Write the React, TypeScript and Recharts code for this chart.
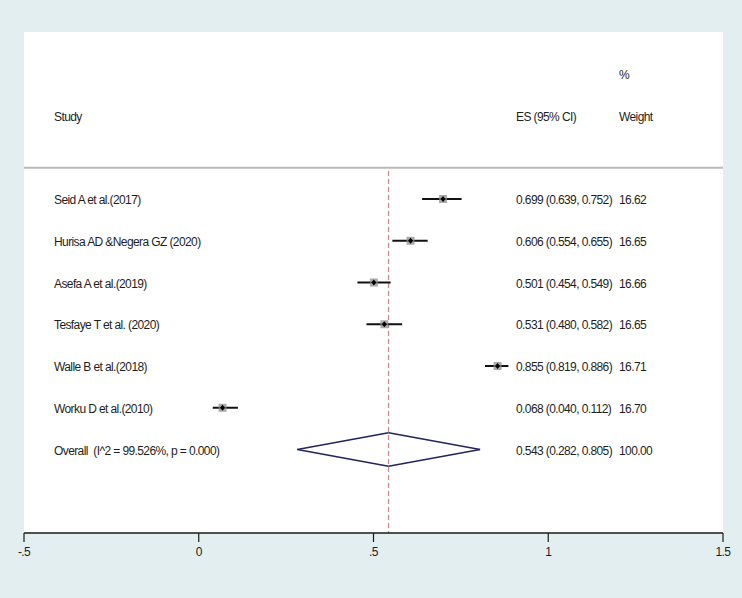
import React from 'react';
import {
  ComposedChart,
  Scatter,
  XAxis,
  YAxis,
  ReferenceLine,
  ReferenceArea,
} from 'recharts';

// ---------- data ----------
const studies = [
  'Seid A et al.(2017)',
  'Hurisa AD &Negera GZ (2020)',
  'Asefa A et al.(2019)',
  'Tesfaye T et al. (2020)',
  'Walle B et al.(2018)',
  'Worku D et al.(2010)',
];
const esValues = [0.699, 0.606, 0.501, 0.531, 0.855, 0.068];
const lowerCI = [0.639, 0.554, 0.454, 0.48, 0.819, 0.04];
const upperCI = [0.752, 0.655, 0.549, 0.582, 0.886, 0.112];
const weights = ['16.62', '16.65', '16.66', '16.65', '16.71', '16.70'];

const overallLabel = 'Overall  (I^2 = 99.526%, p = 0.000)';
const overallES = 0.543;
const overallLower = 0.282;
const overallUpper = 0.805;
const overallWeight = '100.00';

const xTicks = [-0.5, 0, 0.5, 1, 1.5];
const headerStudy = 'Study';
const headerES = 'ES (95% CI)';
const headerWeightTop = '%';
const headerWeight = 'Weight';

// ---------- layout (row positions, not data) ----------
const FIRST_ROW = 4;
const OVERALL_ROW = FIRST_ROW + studies.length;
const Y_MAX = 12;
const SEP_ROW = 3.25;
const COL_STUDY = 54;
const COL_ES = 516;
const COL_W = 619;
const FONT = '"Liberation Sans", Arial, sans-serif';
const TEXT_COLOR = '#1e1e1e';
const FONT_SIZE = 12;
const LETTER_SPACING = -0.6;

const fmt = (v: number) => v.toFixed(3);

const studyPoints = studies.map((s, i) => ({
  x: esValues[i],
  y: FIRST_ROW + i,
}));

type TextRow = { x: number; y: number; a?: string; b?: string; c?: string };
const textRows: TextRow[] = [
  { x: 0, y: 1, c: headerWeightTop },
  { x: 0, y: 2, a: headerStudy, b: headerES, c: headerWeight },
  ...studies.map((s, i) => ({
    x: 0,
    y: FIRST_ROW + i,
    a: s,
    b: `${fmt(esValues[i])} (${fmt(lowerCI[i])}, ${fmt(upperCI[i])})`,
    c: weights[i],
  })),
  {
    x: 0,
    y: OVERALL_ROW,
    a: overallLabel,
    b: `${fmt(overallES)} (${fmt(overallLower)}, ${fmt(overallUpper)})`,
    c: overallWeight,
  },
];

const tickFmt = (v: number) => {
  if (v === 0) return '0';
  const s = String(v);
  return s.replace(/^(-?)0\./, '$1.');
};

const TextShape = (props: any) => {
  const { cy, payload } = props;
  const common = {
    y: cy + 1,
    dominantBaseline: 'central' as const,
    fontFamily: FONT,
    fontSize: FONT_SIZE,
    letterSpacing: LETTER_SPACING,
    fill: TEXT_COLOR,
    style: { whiteSpace: 'pre' as const },
  };
  return (
    <g>
      {payload.a && (
        <text x={COL_STUDY} {...common}>
          {payload.a}
        </text>
      )}
      {payload.b && (
        <text x={COL_ES} {...common}>
          {payload.b}
        </text>
      )}
      {payload.c && (
        <text x={COL_W} {...common}>
          {payload.c}
        </text>
      )}
    </g>
  );
};

const MarkerShape = (props: any) => {
  const { cx, cy } = props;
  return (
    <g>
      <rect x={cx - 4} y={cy - 4} width={8} height={8} fill="#8f8f8f" fillOpacity={0.75} />
      <path d={`M${cx} ${cy - 3} L${cx + 2.5} ${cy} L${cx} ${cy + 3} L${cx - 2.5} ${cy} Z`} fill="#000" />
    </g>
  );
};

const DIAMOND_HALF = 0.4;
const diamondEdges = [
  [
    { x: overallLower, y: OVERALL_ROW },
    { x: overallES, y: OVERALL_ROW - DIAMOND_HALF },
  ],
  [
    { x: overallES, y: OVERALL_ROW - DIAMOND_HALF },
    { x: overallUpper, y: OVERALL_ROW },
  ],
  [
    { x: overallUpper, y: OVERALL_ROW },
    { x: overallES, y: OVERALL_ROW + DIAMOND_HALF },
  ],
  [
    { x: overallES, y: OVERALL_ROW + DIAMOND_HALF },
    { x: overallLower, y: OVERALL_ROW },
  ],
];

export default function App() {
  return (
    <div
      style={{
        position: 'absolute',
        left: 0,
        top: 0,
        width: 742,
        height: 598,
        background: '#e3eef1',
      }}
    >
      <ComposedChart
        width={742}
        height={598}
        margin={{ top: 32, right: 19, bottom: 35, left: 24 }}
      >
        <XAxis
          type="number"
          dataKey="x"
          domain={[-0.5, 1.5]}
          ticks={xTicks}
          tickFormatter={tickFmt}
          allowDataOverflow
          height={30}
          tickSize={9}
          tickMargin={5}
          axisLine={{ stroke: '#1a1a1a', strokeWidth: 1.5 }}
          tickLine={{ stroke: '#1a1a1a', strokeWidth: 1.2 }}
          tick={{ fill: TEXT_COLOR, fontSize: FONT_SIZE, fontFamily: FONT, letterSpacing: LETTER_SPACING }}
        />
        <YAxis type="number" dataKey="y" domain={[0, Y_MAX]} reversed hide allowDataOverflow />
        <ReferenceArea
          x1={-0.5}
          x2={1.5}
          y1={0}
          y2={Y_MAX}
          fill="#ffffff"
          fillOpacity={1}
          stroke="none"
        />
        <ReferenceLine
          segment={[
            { x: -0.5, y: SEP_ROW },
            { x: 1.5, y: SEP_ROW },
          ]}
          stroke="#bdb8b8"
          strokeWidth={2}
        />
        <ReferenceLine
          segment={[
            { x: overallES, y: SEP_ROW + 0.08 },
            { x: overallES, y: Y_MAX },
          ]}
          stroke="#d08a8e"
          strokeWidth={1.3}
          strokeDasharray="5 3"
        />
        {studies.map((s, i) => (
          <ReferenceLine
            key={s}
            segment={[
              { x: lowerCI[i], y: FIRST_ROW + i },
              { x: upperCI[i], y: FIRST_ROW + i },
            ]}
            stroke="#111"
            strokeWidth={2}
          />
        ))}
        {diamondEdges.map((seg, i) => (
          <ReferenceLine
            key={'d' + i}
            segment={seg}
            stroke="#23235e"
            strokeWidth={1.6}
          />
        ))}
        <Scatter data={studyPoints} shape={MarkerShape} isAnimationActive={false} />
        <Scatter data={textRows} shape={TextShape} isAnimationActive={false} />
      </ComposedChart>
    </div>
  );
}
